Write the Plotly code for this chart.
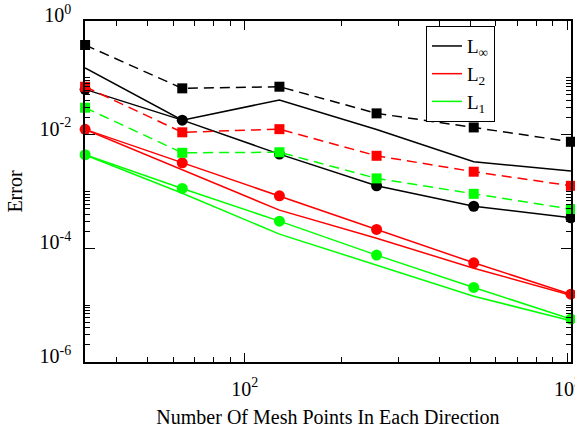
import math
import plotly.graph_objects as go

# Mesh sizes
mesh = [32, 64, 128, 256, 512, 1024]

# L-infinity norm
linf_dashed = [0.378, 0.0653, 0.0698, 0.0237, 0.0134, 0.0075]
linf_circle = [0.0627, 0.018, 0.00455, 0.00126, 0.00055, 0.000345]
linf_plain = [0.15, 0.018, 0.0407, 0.0123, 0.00333, 0.0023]

# L2 norm
l2_dashed = [0.0698, 0.011, 0.0125, 0.00425, 0.00223, 0.00126]
l2_circle = [0.0124, 0.0032, 0.00084, 0.000215, 5.57e-5, 1.56e-5]
l2_plain = [0.0124, 0.00238, 0.00047, 0.000151, 4.45e-5, 1.5e-5]

# L1 norm
l1_dashed = [0.0298, 0.0048, 0.0049, 0.0017, 0.00091, 0.00049]
l1_circle = [0.00443, 0.00113, 0.000301, 7.6e-5, 2.05e-5, 5.7e-6]
l1_plain = [0.0044, 0.00093, 0.000178, 5.06e-5, 1.44e-5, 5.3e-6]

series_names = ["L<sub>∞</sub>", "L<sub>2</sub>", "L<sub>1</sub>"]
colors = ["#000000", "#ff0000", "#00ff00"]

x_tickvals = [100, 1000]
x_ticktext = ["10<sup>2</sup>", "10<sup>3</sup>"]
x_minor = [40, 50, 60, 70, 80, 90, 200, 300, 400, 500, 600, 700, 800, 900]
y_tickvals = [1, 1e-2, 1e-4, 1e-6]
y_ticktext = ["10<sup>0</sup>", "10<sup>-2</sup>", "10<sup>-4</sup>", "10<sup>-6</sup>"]
y_minor = [k * 10.0 ** m for m in (-6, -4, -2) for k in range(2, 11)]

FONT = "Liberation Serif, Times New Roman, serif"

fig = go.Figure()
groups = [
    (linf_dashed, linf_circle, linf_plain),
    (l2_dashed, l2_circle, l2_plain),
    (l1_dashed, l1_circle, l1_plain),
]
for (dashed, circ, plain), name, col in zip(groups, series_names, colors):
    fig.add_trace(go.Scatter(
        x=mesh, y=plain, mode="lines", name=name, legendgroup=name,
        line=dict(color=col, width=1.5), showlegend=True, cliponaxis=False))
    fig.add_trace(go.Scatter(
        x=mesh, y=dashed, mode="lines+markers", legendgroup=name, showlegend=False,
        line=dict(color=col, width=1.5, dash="10px,6px"),
        marker=dict(symbol="square", size=10, color=col), cliponaxis=False))
    fig.add_trace(go.Scatter(
        x=mesh, y=circ, mode="lines+markers", legendgroup=name, showlegend=False,
        line=dict(color=col, width=1.5),
        marker=dict(symbol="circle", size=11, color=col), cliponaxis=False))

axis_common = dict(
    showgrid=False, zeroline=False, showline=True, linecolor="black", linewidth=1.5,
    mirror="ticks", ticks="inside", tickcolor="black", tickwidth=1,
    tickfont=dict(family=FONT, size=20, color="black"),
    ticklabeloverflow="allow", automargin=False,
)

eps = 0.0003
fig.update_xaxes(
    type="log", range=[math.log10(32) - eps, math.log10(1024) + eps],
    tickmode="array", tickvals=x_tickvals, ticktext=x_ticktext, ticklen=9,
    minor=dict(tickmode="array", tickvals=x_minor, ticks="inside", ticklen=5,
               tickcolor="black", tickwidth=1, showgrid=False),
    title=dict(text="Number Of Mesh Points In Each Direction",
               font=dict(family=FONT, size=20, color="black"), standoff=28),
    ticklabelstandoff=8,
    **axis_common)
fig.update_yaxes(
    type="log", range=[-6, 0],
    tickmode="array", tickvals=y_tickvals, ticktext=y_ticktext, ticklen=10,
    minor=dict(tickmode="array", tickvals=y_minor, ticks="inside", ticklen=5,
               tickcolor="black", tickwidth=1, showgrid=False),
    title=dict(text="Error", font=dict(family=FONT, size=20, color="black"), standoff=12),
    ticklabelstandoff=8, ticklabelshift=-6,
    **axis_common)

fig.update_layout(
    width=575, height=428,
    margin=dict(l=85, r=4, t=21, b=66),
    paper_bgcolor="white", plot_bgcolor="white",
    font=dict(family=FONT, size=20, color="black"),
    legend=dict(x=0.7016, y=0.985, xanchor="left", yanchor="top",
                bordercolor="black", borderwidth=1, bgcolor="white",
                font=dict(family=FONT, size=19, color="black"),
                itemwidth=30, tracegroupgap=0),
    showlegend=True,
)

fig.write_html("out.html")
